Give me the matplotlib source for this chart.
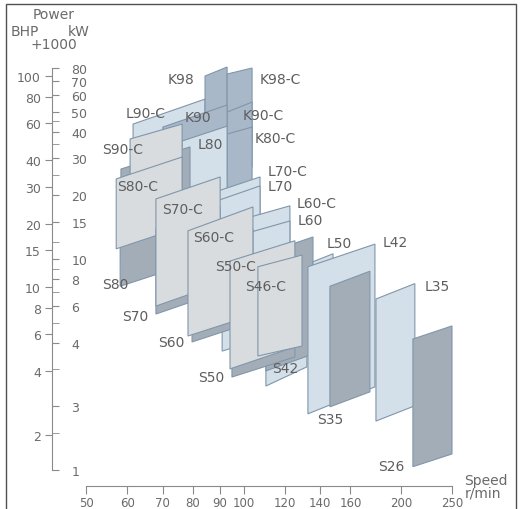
import matplotlib
matplotlib.use("Agg")
import matplotlib.pyplot as plt
from matplotlib.patches import Rectangle
from matplotlib.ticker import NullLocator, NullFormatter

# Engine layout areas, back to front.
# speed in r/min at the left / right edge, power in BHP x1000 at the four corners
names = ["L90-C", "K98", "K98-C", "K90-C", "K80-C", "K90", "L80", "S90",
         "L70-C", "L70", "L60-C", "L60", "S90-C", "S80", "S80-C", "S70",
         "S70-C", "S60", "S60-C", "S42", "S46", "S50", "S50-C", "S46-C",
         "L50", "L42", "S35", "L35", "S26"]
kinds = ["L", "K", "K", "K", "K", "K", "L", "S",
         "L", "L", "L", "L", "C", "S", "C", "S",
         "C", "S", "C", "L", "S", "S", "C", "C",
         "L", "L", "S", "L", "S"]
n_lo = [61.5, 84.4, 93.0, 93.0, 93.0, 70.1, 76.3, 58.3,
        78.3, 78.3, 91.0, 91.0, 60.7, 58.1, 57.1, 68.0,
        68.0, 79.7, 78.3, 110.3, 110.3, 95.0, 94.2, 106.5,
        135.7, 132.7, 146.2, 179.0, 210.6]
n_hi = [84.4, 93.0, 103.8, 103.8, 103.8, 93.0, 93.0, 79.0,
        107.5, 107.5, 122.6, 122.6, 76.3, 76.3, 76.3, 90.2,
        90.2, 104.2, 104.2, 132.1, 135.7, 125.3, 125.3, 129.3,
        148.2, 178.2, 174.3, 212.4, 250.1]
top_lo = [59.3, 100.2, 102.4, 67.6, 53.2, 57.4, 49.3, 36.3,
          25.6, 23.0, 19.7, 16.7, 50.4, 22.2, 32.6, 18.9,
          26.2, 15.2, 18.5, 9.80, 14.5, 10.9, 13.3, 12.5,
          13.2, 12.5, 10.1, 8.79, 5.68]
top_hi = [77.9, 110.5, 109.3, 75.4, 57.4, 73.0, 58.0, 46.2,
          33.3, 30.2, 24.3, 20.6, 59.3, 27.6, 41.4, 24.0,
          33.3, 18.9, 24.0, 11.5, 17.3, 13.6, 16.6, 14.2,
          14.4, 16.0, 11.9, 10.4, 6.55]
bot_lo = [21.0, 45.2, 45.2, 34.4, 29.2, 45.2, 24.8, 13.3,
          9.80, 8.79, 6.34, 4.98, 18.9, 10.1, 15.2, 7.46,
          8.14, 5.50, 5.87, 3.40, 4.01, 3.75, 4.10, 4.72,
          3.67, 2.51, 2.71, 2.32, 1.41]
bot_hi = [27.6, 49.3, 49.3, 37.1, 31.9, 57.4, 27.6, 16.9,
          12.5, 11.4, 7.88, 6.20, 23.5, 12.6, 19.3, 9.49,
          10.4, 6.84, 7.38, 4.19, 4.82, 4.67, 5.21, 5.26,
          4.01, 3.37, 3.19, 2.74, 1.62]

# where each name is written (speed, BHP x1000)
lab_names = ["K98", "K98-C", "K90", "K90-C", "K80-C", "L90-C", "L80", "S90-C",
             "S80-C", "S80", "S70-C", "S70", "L70-C", "L70", "L60-C", "L60",
             "S60-C", "S60", "S50-C", "S46-C", "S50", "S42", "L50", "L42",
             "L35", "S35", "S26"]
lab_n = [71.7, 107.5, 77.3, 99.7, 105.1, 59.4, 81.8, 53.6,
         57.3, 53.6, 69.8, 58.6, 111.3, 111.3, 126.5, 127.0,
         80.1, 68.6, 88.2, 100.6, 81.8, 113.3, 144.3, 184.6,
         222.0, 138.1, 180.6]
lab_p = [97.0, 97.0, 64.0, 65.4, 50.9, 66.9, 47.7, 45.2,
         30.2, 10.4, 23.5, 7.30, 35.5, 30.2, 25.1, 20.8,
         17.3, 5.50, 12.6, 10.1, 3.75, 4.14, 16.2, 16.4,
         10.1, 2.37, 1.42]

speed_ticks = [50, 60, 70, 80, 90, 100, 120, 140, 160, 200, 250]
bhp_ticks = [100, 80, 60, 40, 30, 20, 15, 10, 8, 6, 4, 2]
kw_ticks = [80, 70, 60, 50, 40, 30, 20, 15, 10, 8, 6, 4, 2, 1]
kw_labels = ["80", "70", "60", "50", "40", "30", "20", "15", "10", "8", "6", "4", "3", "1"]
kw_minor = [45, 35, 25, 12, 9, 7, 5, 3, 1.5]

face = {"C": "#d9dcdf", "L": "#d3dfe9", "S": "#a3adb8", "K": "#a8b8c9"}
edge = "#8196aa"
axis_col = "#8a8a8a"
text_col = "#6a6a6a"

fig = plt.figure(figsize=(5.22, 5.10), dpi=100)
ax = fig.add_axes([52 / 522, 23 / 510, 470 / 522, 487 / 510])
ax.set_xscale("log")
ax.set_yscale("log")
ax.set_xlim(43.05, 340.3)
ax.set_ylim(1.142, 232.2)

for i in range(len(names)):
    xs = [n_lo[i], n_hi[i], n_hi[i], n_lo[i]]
    ys = [top_lo[i], top_hi[i], bot_hi[i], bot_lo[i]]
    ax.fill(xs, ys, facecolor=face[kinds[i]], edgecolor=edge, linewidth=0.8)

for name, n, p in zip(lab_names, lab_n, lab_p):
    ax.text(n, p, name, ha="left", va="center", fontsize=10, color="#5e5e5e")

# axes
for side in ["top", "right"]:
    ax.spines[side].set_visible(False)
ax.spines["left"].set_bounds(1.36, 108.8)
ax.spines["bottom"].set_bounds(50, 250)
for side in ["left", "bottom"]:
    ax.spines[side].set_color(axis_col)

ax.set_xticks(speed_ticks, labels=[str(v) for v in speed_ticks])
ax.set_yticks(bhp_ticks, labels=[str(v) for v in bhp_ticks])
ax.xaxis.set_minor_locator(NullLocator())
ax.yaxis.set_minor_locator(NullLocator())
ax.tick_params(axis="x", direction="out", length=6, pad=1, color=axis_col,
               labelcolor=text_col, labelsize=8.5)
ax.tick_params(axis="y", direction="out", length=5, pad=3, color=axis_col,
               labelcolor=text_col, labelsize=9)

sec = ax.secondary_yaxis(0, functions=(lambda b: b / 1.36, lambda k: k * 1.36))
sec.set_alignment("right")
sec.spines["right"].set_visible(False)
sec.set_ticks(kw_ticks, labels=kw_labels)
sec.set_ticks(kw_minor, minor=True)
sec.yaxis.set_minor_formatter(NullFormatter())
sec.tick_params(axis="y", which="both", direction="out", length=5, pad=9,
                color=axis_col, labelcolor=text_col, labelsize=9)

# header and axis names
fig.text(54 / 522, 1 - 15 / 510, "Power", ha="center", va="center", fontsize=10, color=text_col)
fig.text(11 / 522, 1 - 32 / 510, "BHP", ha="left", va="center", fontsize=10, color=text_col)
fig.text(68 / 522, 1 - 32 / 510, "kW", ha="left", va="center", fontsize=10, color=text_col)
fig.text(54 / 522, 1 - 45 / 510, "+1000", ha="center", va="center", fontsize=10, color=text_col)
fig.text(464 / 522, 1 - 481 / 510, "Speed", ha="left", va="center", fontsize=10, color=text_col)
fig.text(465 / 522, 1 - 494 / 510, "r/min", ha="left", va="center", fontsize=10, color=text_col)

fig.add_artist(Rectangle((6 / 522, -0.02), 510 / 522, 1 - 5 / 510 + 0.02, fill=False,
                         edgecolor="#505050", linewidth=1, transform=fig.transFigure))

fig.savefig("out.png", dpi=100)
